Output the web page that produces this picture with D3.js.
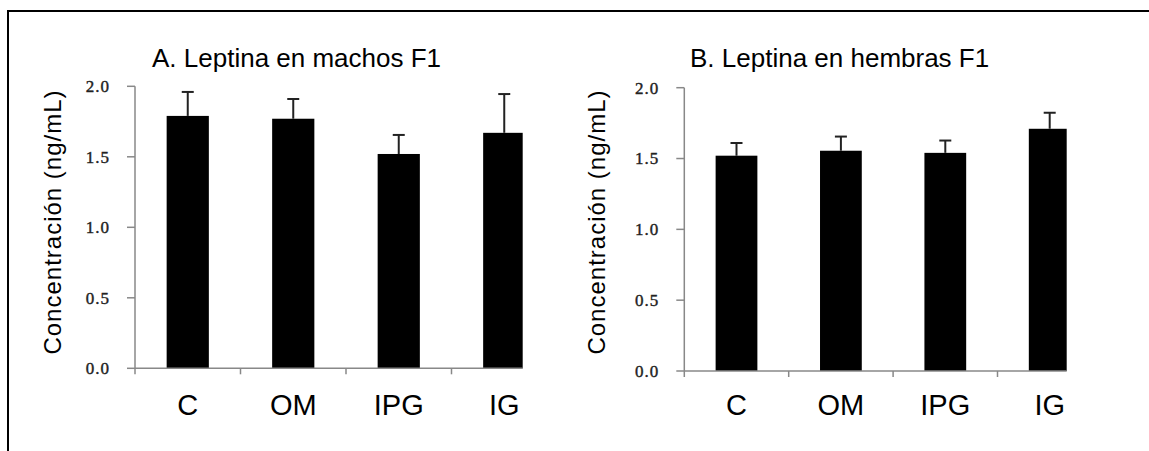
<!DOCTYPE html>
<html lang="es">
  <head>
    <meta charset="UTF-8" />
    <title>Leptina F1</title>
    <script src="https://d3js.org/d3.v7.min.js"></script>
    <style>
      body { margin: 0; background: #fff; }
    </style>
  </head>
  <body>
    <svg width="1149" height="451"></svg>
    <script>
      var categories = ['C', 'OM', 'IPG', 'IG']
      var yTicks = [0, 0.5, 1.0, 1.5, 2.0]

      // machos F1
      var machosMean = [1.79, 1.77, 1.52, 1.67]
      var machosErr = [0.17, 0.14, 0.135, 0.275]

      // hembras F1
      var hembrasMean = [1.52, 1.555, 1.54, 1.71]
      var hembrasErr = [0.09, 0.1, 0.087, 0.113]

      var svg = d3.select('svg')

      // marco exterior (solo arriba e izquierda se ven)
      svg.append('path')
        .attr('d', 'M1149,11 H8 V451')
        .attr('fill', 'none')
        .attr('stroke', '#000')
        .attr('stroke-width', 2)

      var panels = [
        { id: 'a', title: 'A. Leptina en machos F1', mean: machosMean, err: machosErr,
          x0: 135, step: 105.5, xEnd: 522.7, yBottom: 368.3, yTop: 86.3, titleX: 152, labelX: 53 },
        { id: 'b', title: 'B. Leptina en hembras F1', mean: hembrasMean, err: hembrasErr,
          x0: 684.3, step: 104.4, xEnd: 1066.7, yBottom: 371, yTop: 87.7, titleX: 690, labelX: 597 }
      ]

      panels.forEach(function(p) {
        var x = d3.scaleBand()
          .domain(categories)
          .range([p.x0, p.x0 + p.step * categories.length])
          .paddingInner(0.6)
          .paddingOuter(0.3)

        var y = d3.scaleLinear().domain([0, 2]).range([p.yBottom, p.yTop])

        var g = svg.append('g')

        // el area del grafico corta la ultima barra
        svg.append('clipPath')
          .attr('id', 'clip-' + p.id)
          .append('rect')
          .attr('x', p.x0)
          .attr('y', 0)
          .attr('width', p.xEnd - p.x0)
          .attr('height', 451)

        var plot = g.append('g').attr('clip-path', 'url(#clip-' + p.id + ')')

        // barras
        plot.selectAll('.bar')
          .data(p.mean)
          .enter()
          .append('rect')
          .attr('x', function(d, i) { return x(categories[i]) })
          .attr('y', function(d) { return y(d) })
          .attr('width', x.bandwidth())
          .attr('height', function(d) { return y(0) - y(d) })
          .attr('fill', '#000')

        // barras de error (solo hacia arriba)
        var eb = plot.selectAll('.err')
          .data(p.mean)
          .enter()
          .append('g')
          .attr('stroke', '#222')
          .attr('stroke-width', 2)
        eb.append('line')
          .attr('x1', function(d, i) { return x(categories[i]) + x.bandwidth() / 2 })
          .attr('x2', function(d, i) { return x(categories[i]) + x.bandwidth() / 2 })
          .attr('y1', function(d) { return y(d) })
          .attr('y2', function(d, i) { return y(d + p.err[i]) })
        eb.append('line')
          .attr('x1', function(d, i) { return x(categories[i]) + x.bandwidth() / 2 - 6 })
          .attr('x2', function(d, i) { return x(categories[i]) + x.bandwidth() / 2 + 6 })
          .attr('y1', function(d, i) { return y(d + p.err[i]) })
          .attr('y2', function(d, i) { return y(d + p.err[i]) })

        // eje y
        g.append('line')
          .attr('x1', p.x0).attr('x2', p.x0)
          .attr('y1', y(0)).attr('y2', y(2))
          .attr('stroke', '#888').attr('stroke-width', 1.5)
        g.selectAll('.ytick')
          .data(yTicks)
          .enter()
          .append('line')
          .attr('x1', p.x0 - 8).attr('x2', p.x0)
          .attr('y1', function(d) { return y(d) })
          .attr('y2', function(d) { return y(d) })
          .attr('stroke', '#888').attr('stroke-width', 1.5)
        g.selectAll('.ylab')
          .data(yTicks)
          .enter()
          .append('text')
          .attr('x', p.x0 - 25)
          .attr('y', function(d) { return y(d) })
          .attr('dy', '0.35em')
          .attr('text-anchor', 'end')
          .attr('font-family', 'Liberation Serif, serif')
          .attr('font-size', 17)
          .attr('letter-spacing', 1)
          .attr('fill', '#222')
          .attr('stroke', '#222')
          .attr('stroke-width', 0.4)
          .text(function(d) { return d3.format('.1f')(d) })

        // eje x
        g.append('line')
          .attr('x1', p.x0).attr('x2', p.xEnd)
          .attr('y1', y(0)).attr('y2', y(0))
          .attr('stroke', '#888').attr('stroke-width', 1.5)
        var xt = categories.map(function(c, i) { return p.x0 + i * p.step })
        g.selectAll('.xtick')
          .data(xt)
          .enter()
          .append('line')
          .attr('x1', function(d) { return d }).attr('x2', function(d) { return d })
          .attr('y1', y(0)).attr('y2', y(0) + 6)
          .attr('stroke', '#888').attr('stroke-width', 1.5)
        g.selectAll('.xlab')
          .data(categories)
          .enter()
          .append('text')
          .attr('x', function(d) { return x(d) + x.bandwidth() / 2 })
          .attr('y', 415)
          .attr('text-anchor', 'middle')
          .attr('font-family', 'Liberation Sans, Arial, sans-serif')
          .attr('font-size', 29)
          .attr('fill', '#000')
          .text(function(d) { return d })

        // titulo
        g.append('text')
          .attr('x', p.titleX)
          .attr('y', 67)
          .attr('font-family', 'Liberation Sans, Arial, sans-serif')
          .attr('font-size', 26)
          .attr('fill', '#000')
          .text(p.title)

        // etiqueta del eje y
        g.append('text')
          .attr('transform', 'translate(' + p.labelX + ',' + 222 + ') rotate(-90)')
          .attr('text-anchor', 'middle')
          .attr('dy', '0.35em')
          .attr('font-family', 'Liberation Sans, Arial, sans-serif')
          .attr('font-size', 24)
          .attr('letter-spacing', 1)
          .attr('fill', '#000')
          .text('Concentración (ng/mL)')
      })
    </script>
  </body>
</html>
